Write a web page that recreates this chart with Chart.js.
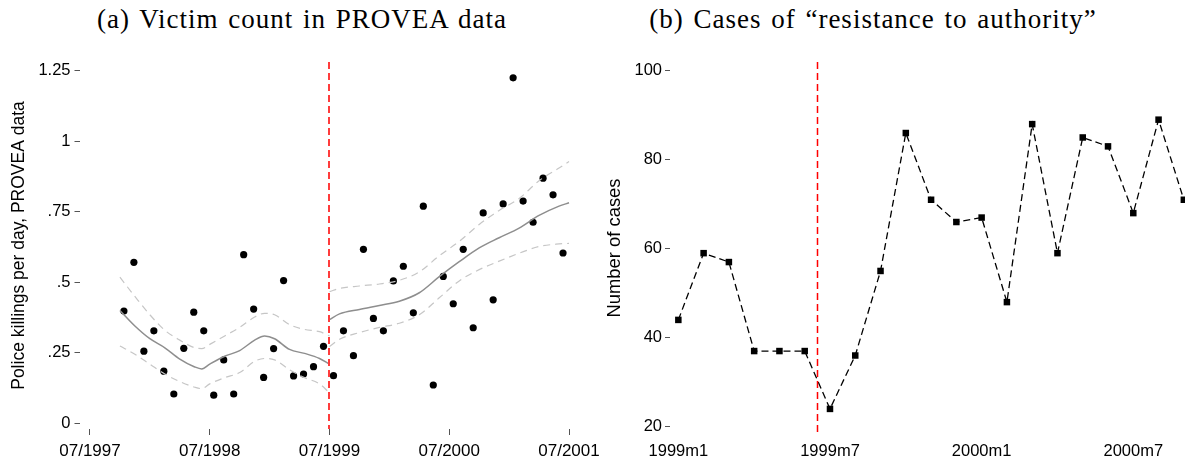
<!DOCTYPE html>
<html>
<head>
<meta charset="utf-8">
<script src="https://cdn.jsdelivr.net/npm/chart.js@4.4.0/dist/chart.umd.min.js"></script>
<style>
  html, body { margin: 0; padding: 0; background: #fff; }
  body { width: 1185px; height: 456px; overflow: hidden; position: relative; }
  .title {
    position: absolute; top: 0; height: 38px; line-height: 38px;
    font-family: 'Liberation Serif', serif; font-size: 27px;
    letter-spacing: 1px; word-spacing: 2px; white-space: nowrap;
    transform: translateX(-50%); color: #000;
  }
  #chartA { position: absolute; left: 0; top: 0; }
  #chartB { position: absolute; left: 590px; top: 0; }
</style>
</head>
<body>
<div class="title" style="left:302px">(a) Victim count in PROVEA data</div>
<div class="title" style="left:873px">(b) Cases of “resistance to authority”</div>
<canvas id="chartA" width="605" height="456"></canvas>
<canvas id="chartB" width="615" height="456"></canvas>
<script>
// ---- panel (a): monthly police killings per day (months since 07/1997)
const killMonths = [3, 4, 5, 6, 7, 8, 9, 10, 11, 12, 13, 14, 15, 16, 17, 18, 19, 20, 21, 22, 23,
  24, 25, 26, 27, 28, 29, 30, 31, 32, 33, 34, 35, 36, 37, 38, 39, 40, 41, 42, 43, 44, 45, 46, 47];
const killRate = [0.398, 0.571, 0.256, 0.328, 0.185, 0.104, 0.266, 0.394, 0.328, 0.100, 0.225,
  0.104, 0.598, 0.405, 0.163, 0.265, 0.506, 0.168, 0.175, 0.201, 0.273,
  0.169, 0.328, 0.240, 0.617, 0.372, 0.328, 0.505, 0.557, 0.392, 0.770, 0.136, 0.521,
  0.424, 0.617, 0.339, 0.746, 0.438, 0.778, 1.225, 0.788, 0.713, 0.869, 0.810, 0.604];

// local fit and confidence band, before the cutoff
const fitPreMonths = [3, 4.5, 6, 7.5, 9, 10.5, 11.2, 12, 13.5, 15, 16.5, 17.5, 18.5, 20, 21.5, 23, 24];
const fitPreMid = [0.400, 0.345, 0.300, 0.268, 0.228, 0.200, 0.193, 0.210, 0.238, 0.258, 0.295, 0.310, 0.300, 0.262, 0.248, 0.230, 0.210];
const fitPreHi  = [0.518, 0.450, 0.385, 0.330, 0.295, 0.268, 0.265, 0.280, 0.310, 0.340, 0.377, 0.390, 0.385, 0.350, 0.333, 0.325, 0.310];
const fitPreLo  = [0.274, 0.245, 0.210, 0.175, 0.148, 0.128, 0.123, 0.140, 0.162, 0.180, 0.220, 0.230, 0.225, 0.190, 0.162, 0.140, 0.108];

// local fit and confidence band, after the cutoff
const fitPostMonths = [24, 25, 27, 29, 31, 33, 35, 37, 39, 41, 43, 45, 47, 48];
const fitPostMid = [0.368, 0.388, 0.404, 0.418, 0.433, 0.463, 0.520, 0.573, 0.622, 0.658, 0.692, 0.737, 0.770, 0.782];
const fitPostHi  = [0.467, 0.478, 0.487, 0.494, 0.507, 0.537, 0.594, 0.645, 0.705, 0.755, 0.797, 0.860, 0.905, 0.928];
const fitPostLo  = [0.272, 0.298, 0.322, 0.340, 0.355, 0.385, 0.445, 0.505, 0.545, 0.575, 0.603, 0.627, 0.636, 0.638];

const leftTickMonths = [0, 12, 24, 36, 48];
const leftTickLabels = ['07/1997', '07/1998', '07/1999', '07/2000', '07/2001'];
const leftYTicks = [0, 0.25, 0.5, 0.75, 1, 1.25];
const leftYLabels = ['0', '.25', '.5', '.75', '1', '1.25'];
const cutoffLeft = 24;

// ---- panel (b): monthly cases of "resistance to authority"
const caseLabels = ['1999m1', '1999m2', '1999m3', '1999m4', '1999m5', '1999m6', '1999m7', '1999m8',
  '1999m9', '1999m10', '1999m11', '1999m12', '2000m1', '2000m2', '2000m3', '2000m4', '2000m5',
  '2000m6', '2000m7', '2000m8', '2000m9'];
const caseCounts = [44, 59, 57, 37, 37, 37, 24, 36, 55, 86, 71, 66, 67, 48, 88, 59, 85, 83, 68, 89, 71];
const rightTickIdx = [0, 6, 12, 18];
const rightYTicks = [20, 40, 60, 80, 100];
const cutoffRight = 5.5;

const SANS = "'Liberation Sans', Arial, Helvetica, sans-serif";

const xy = (xs, ys, dx = 0) => xs.map((x, i) => ({ x: x + dx, y: ys[i] }));

function curve(xs, ys, color, width, dash) {
  return {
    type: 'line', data: xy(xs, ys), borderColor: color, borderWidth: width,
    borderDash: dash, pointRadius: 0, cubicInterpolationMode: 'monotone', fill: false
  };
}

function cutoffLine(value, color, width, dash) {
  return {
    id: 'cutoff',
    afterDatasetsDraw(chart) {
      const { ctx, chartArea, scales } = chart;
      const x = Math.round(scales.x.getPixelForValue(value)) + (width % 2 ? 0.5 : 0);
      ctx.save();
      ctx.strokeStyle = color;
      ctx.lineWidth = width;
      ctx.setLineDash(dash);
      ctx.beginPath();
      ctx.moveTo(x, chartArea.top);
      ctx.lineTo(x, chartArea.bottom);
      ctx.stroke();
      ctx.restore();
    }
  };
}

new Chart(document.getElementById('chartA'), {
  type: 'scatter',
  data: {
    datasets: [
      curve(fitPreMonths, fitPreHi, '#c6c6c6', 1.2, [7, 5]),
      curve(fitPreMonths, fitPreLo, '#c6c6c6', 1.2, [7, 5]),
      curve(fitPreMonths, fitPreMid, '#8e8e8e', 1.5, []),
      curve(fitPostMonths, fitPostHi, '#c6c6c6', 1.2, [7, 5]),
      curve(fitPostMonths, fitPostLo, '#c6c6c6', 1.2, [7, 5]),
      curve(fitPostMonths, fitPostMid, '#8e8e8e', 1.5, []),
      {
        // points sit a little after the start of their month
        data: xy(killMonths, killRate, 0.4),
        pointRadius: 3.6, pointBorderWidth: 0, backgroundColor: '#000'
      }
    ]
  },
  options: {
    responsive: false,
    animation: false,
    layout: { padding: { top: 62, right: 30, left: 0, bottom: 0 } },
    plugins: { legend: { display: false }, tooltip: { enabled: false } },
    scales: {
      x: {
        type: 'linear', min: -1.05, max: 48.6,
        afterBuildTicks: s => { s.ticks = leftTickMonths.map(v => ({ value: v })); },
        afterFit: s => { s.height = 27; s.paddingLeft = 0; s.paddingRight = 0; },
        grid: { drawOnChartArea: false, drawTicks: true, tickLength: 6, tickColor: '#555' },
        border: { display: false },
        ticks: {
          padding: 6, color: '#000', maxRotation: 0, autoSkip: false,
          font: { family: SANS, size: 17 },
          callback: v => leftTickLabels[leftTickMonths.indexOf(v)]
        }
      },
      y: {
        min: -0.02, max: 1.281,
        afterBuildTicks: s => { s.ticks = leftYTicks.map(v => ({ value: v })); },
        afterFit: s => { s.width = 79.5; s.paddingTop = 0; s.paddingBottom = 0; },
        grid: { drawOnChartArea: false, drawTicks: true, tickLength: 5, tickColor: '#555' },
        border: { display: false },
        ticks: {
          padding: 4, color: '#000',
          font: { family: SANS, size: 16.5 },
          callback: v => leftYLabels[leftYTicks.indexOf(v)]
        },
        title: {
          display: true, text: 'Police killings per day, PROVEA data', color: '#000',
          font: { family: SANS, size: 17.5 }, padding: { top: 9, bottom: 0 }
        }
      }
    }
  },
  plugins: [cutoffLine(cutoffLeft, 'rgb(255,60,60)', 2, [7, 4])]
});

new Chart(document.getElementById('chartB'), {
  type: 'scatter',
  data: {
    datasets: [{
      type: 'line',
      data: caseCounts.map((v, i) => ({ x: i, y: v })),
      borderColor: '#000', borderWidth: 1.3, borderDash: [7, 4],
      pointStyle: 'rect', pointRadius: 4.6, pointBorderWidth: 0,
      pointBackgroundColor: '#000', tension: 0, fill: false
    }]
  },
  options: {
    responsive: false,
    animation: false,
    layout: { padding: { top: 62, right: 6, left: 0, bottom: 0 } },
    plugins: { legend: { display: false }, tooltip: { enabled: false } },
    scales: {
      x: {
        type: 'linear', min: -0.33, max: 20.6,
        afterBuildTicks: s => { s.ticks = rightTickIdx.map(v => ({ value: v })); },
        afterFit: s => { s.height = 22; s.paddingLeft = 0; s.paddingRight = 0; },
        grid: { display: false, drawTicks: false },
        border: { display: false },
        ticks: {
          padding: 8, color: '#000', maxRotation: 0, autoSkip: false,
          font: { family: SANS, size: 16.5 },
          callback: v => caseLabels[v]
        }
      },
      y: {
        min: 18.36, max: 101.96,
        afterBuildTicks: s => { s.ticks = rightYTicks.map(v => ({ value: v })); },
        afterFit: s => { s.width = 80; s.paddingTop = 0; s.paddingBottom = 0; },
        grid: { drawOnChartArea: false, drawTicks: true, tickLength: 5, tickColor: '#555' },
        border: { display: false },
        ticks: {
          padding: 3, color: '#000',
          font: { family: SANS, size: 16.5 },
          callback: v => String(v)
        },
        title: {
          display: true, text: 'Number of cases', color: '#000',
          font: { family: SANS, size: 18.4 }, padding: { top: 14, bottom: 0 }
        }
      }
    }
  },
  plugins: [cutoffLine(cutoffRight, 'rgb(255,0,0)', 1.5, [7, 4])]
});
</script>
</body>
</html>
